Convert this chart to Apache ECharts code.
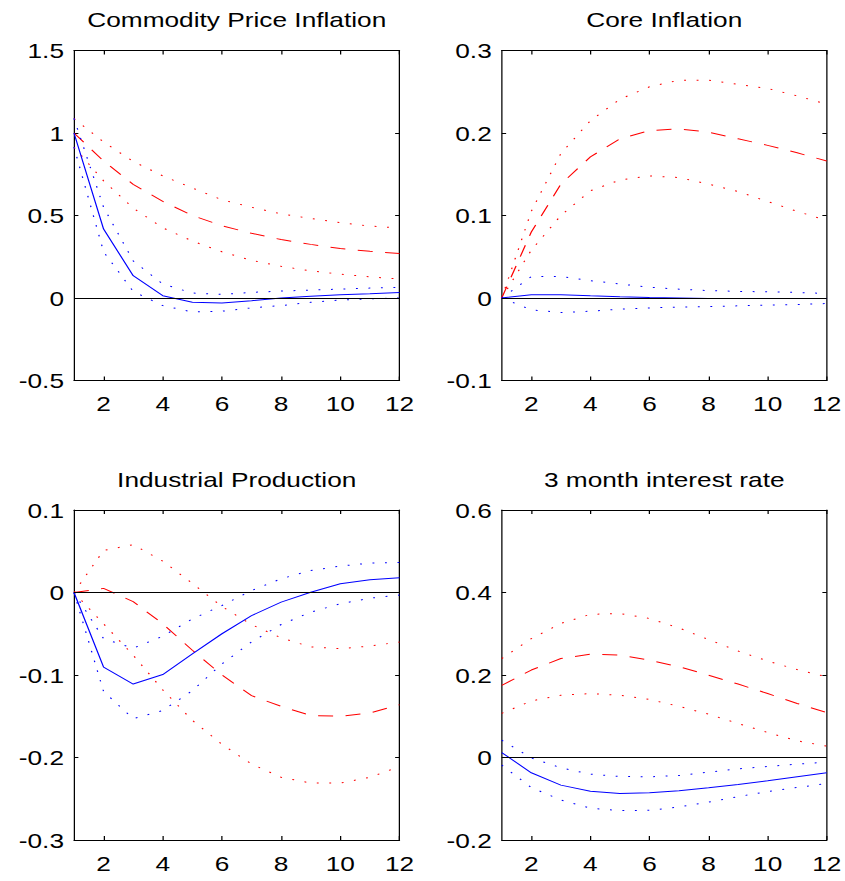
<!DOCTYPE html>
<html>
<head>
<meta charset="utf-8">
<title>Impulse responses</title>
<script src="https://cdn.jsdelivr.net/npm/echarts@6/dist/echarts.min.js"></script>
<style>
  html, body { margin: 0; padding: 0; background: #fff; overflow: hidden; }
  /* the figure is laid out 676px wide and stretched horizontally to 845px */
  #chart { width: 676px; height: 881px; transform: scaleX(1.25); transform-origin: 0 0; }
</style>
</head>
<body>
<div id="chart"></div>
<script>
// Horizon (months) and tick labels
const steps = [1, 2, 3, 4, 5, 6, 7, 8, 9, 10, 11, 12];
const xTicks = [2, 4, 6, 8, 10, 12];

// Commodity Price Inflation
const commodityRed   = [1.0, 0.83, 0.689, 0.586, 0.50, 0.438, 0.392, 0.354, 0.325, 0.30, 0.283, 0.269];
const commodityRedHi = [1.088, 0.945, 0.828, 0.74, 0.667, 0.595, 0.55, 0.51, 0.482, 0.457, 0.436, 0.424];
const commodityRedLo = [0.914, 0.71, 0.545, 0.425, 0.345, 0.28, 0.228, 0.192, 0.164, 0.145, 0.128, 0.115];
const commodityBlue   = [1.0, 0.418, 0.135, 0.014, -0.026, -0.030, -0.016, 0.0, 0.01, 0.02, 0.026, 0.034];
const commodityBlueHi = [1.088, 0.55, 0.225, 0.085, 0.03, 0.022, 0.034, 0.042, 0.048, 0.054, 0.06, 0.065];
const commodityBlueLo = [0.914, 0.28, 0.04, -0.046, -0.085, -0.08, -0.06, -0.046, -0.026, -0.012, -0.005, 0.0];

// Core Inflation
const coreRed   = [0, 0.08, 0.138, 0.171, 0.193, 0.203, 0.205, 0.201, 0.193, 0.185, 0.176, 0.166];
const coreRedHi = [0, 0.105, 0.175, 0.215, 0.241, 0.256, 0.264, 0.264, 0.259, 0.254, 0.245, 0.235];
const coreRedLo = [0, 0.058, 0.10, 0.13, 0.143, 0.148, 0.146, 0.138, 0.129, 0.117, 0.105, 0.094];
const coreBlue   = [0, 0.004, 0.004, 0.0026, 0.0014, 0.0006, 0, -0.0006, -0.0006, -0.0006, -0.0006, -0.0006];
const coreBlueHi = [0, 0.026, 0.026, 0.021, 0.017, 0.013, 0.0107, 0.009, 0.008, 0.0075, 0.0067, 0.0055];
const coreBlueLo = [0, -0.0143, -0.0176, -0.016, -0.0135, -0.012, -0.011, -0.0103, -0.0095, -0.0087, -0.008, -0.0067];

// Industrial Production
const industryRed   = [0, 0.005, -0.011, -0.038, -0.070, -0.100, -0.125, -0.138, -0.149, -0.150, -0.146, -0.136];
const industryRedHi = [0, 0.051, 0.058, 0.038, 0.011, -0.017, -0.039, -0.055, -0.066, -0.068, -0.065, -0.060];
const industryRedLo = [0, -0.038, -0.076, -0.118, -0.155, -0.184, -0.208, -0.224, -0.231, -0.231, -0.224, -0.211];
const industryBlue   = [0, -0.0905, -0.111, -0.0994, -0.0743, -0.050, -0.028, -0.0117, 0.0004, 0.0105, 0.0154, 0.0178];
const industryBlueHi = [0, -0.056, -0.0675, -0.053, -0.032, -0.0158, 0.0024, 0.0166, 0.0267, 0.032, 0.0356, 0.0364];
const industryBlueLo = [0, -0.12, -0.153, -0.143, -0.119, -0.0865, -0.060, -0.0388, -0.0238, -0.0137, -0.0069, -0.003];

// 3 month interest rate
const rateRed   = [0.175, 0.212, 0.240, 0.2505, 0.248, 0.236, 0.220, 0.1996, 0.178, 0.155, 0.131, 0.109];
const rateRedHi = [0.24, 0.288, 0.325, 0.347, 0.349, 0.337, 0.314, 0.286, 0.258, 0.234, 0.213, 0.1956];
const rateRedLo = [0.107, 0.137, 0.151, 0.155, 0.151, 0.1406, 0.124, 0.105, 0.0824, 0.0606, 0.0404, 0.0275];
const rateBlue   = [0.012, -0.037, -0.067, -0.0816, -0.0873, -0.0857, -0.0808, -0.0735, -0.0655, -0.0566, -0.0469, -0.0372];
const rateBlueHi = [0.042, -0.001, -0.025, -0.0404, -0.046, -0.0469, -0.0436, -0.0356, -0.0275, -0.0218, -0.0162, -0.0113];
const rateBlueLo = [-0.0186, -0.0727, -0.103, -0.123, -0.1285, -0.128, -0.120, -0.108, -0.095, -0.0824, -0.0727, -0.063];

const titles = ['Commodity Price Inflation', 'Core Inflation', 'Industrial Production', '3 month interest rate'];
const yRanges = [[-0.5, 1.5, 0.5], [-0.1, 0.3, 0.1], [-0.3, 0.1, 0.1], [-0.2, 0.6, 0.2]];
const panelSeries = [
  [commodityRed, commodityRedHi, commodityRedLo, commodityBlue, commodityBlueHi, commodityBlueLo],
  [coreRed, coreRedHi, coreRedLo, coreBlue, coreBlueHi, coreBlueLo],
  [industryRed, industryRedHi, industryRedLo, industryBlue, industryBlueHi, industryBlueLo],
  [rateRed, rateRedHi, rateRedLo, rateBlue, rateBlueHi, rateBlueLo]
];

// ---- layout (in the 676px-wide frame) ----
const FONT = '"Liberation Sans", Arial, Helvetica, sans-serif';
const FS = 21;
const plotW = [260.4, 260];
const lefts = [59.2, 401.4];
const tops = [50.5, 510];
const plotH = 330;
const titleTops = [8.5, 468.5];

const RED = '#ff0000';
const BLUE = '#0000ff';
const DOT = [1.5, 8.5];
const DASH = [12, 10];

const grid = [], xAxis = [], yAxis = [], title = [], series = [];

for (let p = 0; p < 4; p++) {
  const col = p % 2, row = Math.floor(p / 2);
  const left = lefts[col], top = tops[row], w = plotW[col];
  grid.push({ left: left, top: top, width: w, height: plotH, containLabel: false, outerBoundsMode: 'none' });

  title.push({
    text: titles[p],
    left: left + w / 2, top: titleTops[row], textAlign: 'center', padding: 0,
    textStyle: { fontFamily: FONT, fontSize: FS, fontWeight: 'normal', color: '#000' }
  });

  const axisLine = { show: true, onZero: false, lineStyle: { color: '#000', width: 1 } };
  // bottom axis with labels, top axis as a mirrored frame edge
  xAxis.push({
    type: 'value', gridIndex: p, position: 'bottom', min: 1, max: 12,
    axisLine: axisLine,
    axisTick: { show: true, inside: true, length: 4, customValues: xTicks, lineStyle: { color: '#000' } },
    axisLabel: { show: true, customValues: xTicks, margin: 12.5, color: '#000', fontFamily: FONT, fontSize: FS },
    splitLine: { show: false }
  });
  xAxis.push({
    type: 'value', gridIndex: p, position: 'top', min: 1, max: 12,
    axisLine: axisLine,
    axisTick: { show: true, inside: true, length: 4, customValues: xTicks, lineStyle: { color: '#000' } },
    axisLabel: { show: false },
    splitLine: { show: false }
  });

  const [ymin, ymax, ystep] = yRanges[p];
  yAxis.push({
    type: 'value', gridIndex: p, position: 'left', min: ymin, max: ymax, interval: ystep,
    axisLine: axisLine,
    axisTick: { show: true, inside: true, length: 3.5, lineStyle: { color: '#000' } },
    axisLabel: {
      show: true, margin: 8, color: '#000', fontFamily: FONT, fontSize: FS,
      showMinLabel: true, showMaxLabel: true,
      formatter: v => String(Math.round(v * 1000) / 1000)
    },
    splitLine: { show: false }
  });
  yAxis.push({
    type: 'value', gridIndex: p, position: 'right', min: ymin, max: ymax, interval: ystep,
    axisLine: axisLine,
    axisTick: { show: true, inside: true, length: 3.5, lineStyle: { color: '#000' } },
    axisLabel: { show: false },
    splitLine: { show: false }
  });

  const xi = p * 2, yi = p * 2;

  // zero reference line
  series.push({
    type: 'line', xAxisIndex: xi, yAxisIndex: yi, data: [], z: 1, silent: true,
    markLine: {
      silent: true, symbol: 'none', label: { show: false },
      lineStyle: { color: '#000', width: 1, type: 'solid' },
      data: [{ yAxis: 0 }]
    }
  });

  const styles = [
    [RED, DASH], [RED, DOT], [RED, DOT],
    [BLUE, 'solid'], [BLUE, DOT], [BLUE, DOT]
  ];
  panelSeries[p].forEach((vals, k) => {
    series.push({
      type: 'line', xAxisIndex: xi, yAxisIndex: yi, z: 2,
      symbol: 'none', silent: true,
      lineStyle: { color: styles[k][0], width: 1, type: styles[k][1] },
      data: steps.map((x, i) => [x, vals[i]])
    });
  });
}

const chart = echarts.init(document.getElementById('chart'), null, { renderer: 'svg', width: 676, height: 881 });
chart.setOption({
  animation: false,
  backgroundColor: '#fff',
  textStyle: { fontFamily: FONT, color: '#000' },
  title: title,
  grid: grid,
  xAxis: xAxis,
  yAxis: yAxis,
  tooltip: { show: false },
  series: series
});
</script>
</body>
</html>
